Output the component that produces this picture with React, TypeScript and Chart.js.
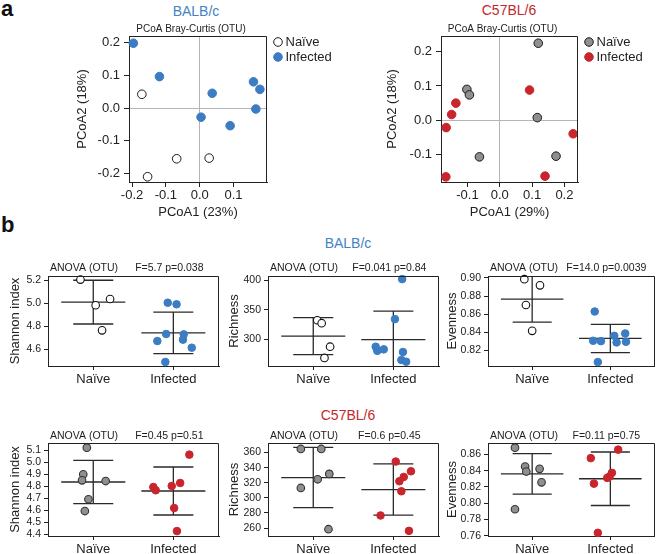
import React, { useEffect, useRef } from 'react';
import { Chart, registerables } from 'chart.js';

Chart.register(...registerables);

const FONT = '"Liberation Sans", Arial, Helvetica, sans-serif';
const INK = '#222222';
const BLUE = '#3b7cc2';
const RED = '#c8252c';
const GRAY = '#8f8f8f';
const ZERO = '#b4b4b4';
const TITLE_BLUE = '#4383c4';
const TITLE_RED = '#c3282e';

// ---------- Panel a: PCoA ----------
const pcoaTicksBalbX = [-0.2, -0.1, 0.0, 0.1];
const pcoaTicksBalbY = [-0.2, -0.1, 0.0, 0.1, 0.2];
const balbNaiveX = [-0.171, -0.154, -0.068, 0.028];
const balbNaiveY = [0.042, -0.21, -0.155, -0.153];
const balbInfX = [-0.196, -0.119, 0.037, 0.004, 0.09, 0.159, 0.178, 0.166];
const balbInfY = [0.198, 0.096, 0.045, -0.028, -0.054, 0.08, 0.057, -0.003];

const pcoaTicksC57X = [-0.1, 0.0, 0.1, 0.2];
const pcoaTicksC57Y = [-0.1, 0.0, 0.1, 0.2];
const c57NaiveX = [0.119, -0.102, -0.094, 0.116, -0.063, 0.174];
const c57NaiveY = [0.224, 0.09, 0.074, 0.008, -0.106, -0.104];
const c57InfX = [0.092, -0.136, -0.149, -0.166, -0.167, 0.14, 0.227];
const c57InfY = [0.088, 0.05, 0.017, -0.021, -0.164, -0.162, -0.039];

// ---------- Panel b: alpha diversity ----------
const groups = ['Naïve', 'Infected'];

// BALB/c
const shB_naiveJ = [-0.16, 0.03, 0.21, 0.11];
const shB_naive = [5.206, 4.983, 5.037, 4.765];
const shB_infJ = [-0.07, 0.04, -0.09, 0.13, -0.2, 0.12, 0.23, -0.1];
const shB_inf = [5.005, 4.991, 4.733, 4.73, 4.672, 4.684, 4.614, 4.49];
const shB_mean = [5.01, 4.743];
const shB_sd = [0.19, 0.18];
const shB_ticks = [4.6, 4.8, 5.0, 5.2];

const riB_naiveJ = [0.05, 0.105, 0.21, 0.14];
const riB_naive = [332, 327, 287, 268];
const riB_infJ = [0.11, 0.02, -0.22, -0.2, -0.12, 0.12, 0.1, 0.16];
const riB_inf = [402, 334, 287, 280, 282.5, 278, 264.5, 261.5];
const riB_mean = [305, 299];
const riB_sd = [31.5, 48.5];
const riB_ticks = [300, 350, 400];

const evB_naiveJ = [-0.1, 0.1, -0.08, 0.0];
const evB_naive = [0.8987, 0.8918, 0.87, 0.8413];
const evB_infJ = [-0.2, -0.22, -0.12, 0.05, 0.08, 0.19, 0.2, -0.16];
const evB_inf = [0.8628, 0.8303, 0.8299, 0.8358, 0.8285, 0.8384, 0.8292, 0.8067];
const evB_mean = [0.8765, 0.8329];
const evB_sd = [0.0255, 0.0157];
const evB_ticks = [0.82, 0.84, 0.86, 0.88, 0.9];

// C57BL/6
const shC_naiveJ = [-0.08, -0.125, -0.14, 0.155, -0.06, -0.105];
const shC_naive = [5.122, 4.9, 4.85, 4.844, 4.692, 4.594];
const shC_infJ = [0.2, 0.085, -0.02, -0.25, -0.22, 0.01, 0.045];
const shC_inf = [5.064, 4.828, 4.803, 4.794, 4.767, 4.619, 4.427];
const shC_mean = [4.836, 4.761];
const shC_sd = [0.18, 0.2];
const shC_ticks = [4.4, 4.5, 4.6, 4.7, 4.8, 4.9, 5.0, 5.1];

const riC_naiveJ = [-0.155, 0.1, 0.2, 0.055, -0.155, 0.19];
const riC_naive = [364.8, 364.8, 331.7, 324.6, 313.1, 258.4];
const riC_infJ = [0.03, 0.22, 0.13, 0.075, 0.1, -0.16, 0.195];
const riC_inf = [348.1, 335.2, 327.7, 322, 308.7, 276.6, 256.2];
const riC_mean = [326.9, 311];
const riC_sd = [40, 34];
const riC_ticks = [260, 280, 300, 320, 340, 360];

const evC_naiveJ = [-0.22, -0.09, -0.075, 0.095, 0.12, -0.22];
const evC_naive = [0.8683, 0.8451, 0.8389, 0.8422, 0.8256, 0.7925];
const evC_infJ = [0.1, -0.25, 0.02, -0.01, -0.04, -0.21, -0.16];
const evC_inf = [0.8658, 0.8554, 0.8373, 0.8327, 0.8311, 0.824, 0.7635];
const evC_mean = [0.836, 0.83];
const evC_sd = [0.0249, 0.0329];
const evC_ticks = [0.76, 0.78, 0.8, 0.82, 0.84, 0.86];

// ---------- helpers ----------
type Pt = { x: number; y: number | null };
const pairs = (xs: number[], ys: number[]): Pt[] => xs.map((x, i) => ({ x, y: ys[i] }));
const jitter = (g: number, offs: number[], ys: number[]): Pt[] => offs.map((o, i) => ({ x: g + o, y: ys[i] }));

function errorBars(means: number[], sds: number[], half = 0.4, cap = 0.25): Pt[] {
  const out: Pt[] = [];
  means.forEach((m, i) => {
    const s = sds[i];
    out.push({ x: i - half, y: m }, { x: i + half, y: m }, { x: i, y: null });
    out.push({ x: i - cap, y: m + s }, { x: i + cap, y: m + s }, { x: i, y: null });
    out.push({ x: i - cap, y: m - s }, { x: i + cap, y: m - s }, { x: i, y: null });
    out.push({ x: i, y: m - s }, { x: i, y: m + s }, { x: i, y: null });
  });
  return out;
}

const decoPlugin = {
  id: 'deco',
  afterDraw(chart: any, _args: any, opts: any) {
    const { ctx, chartArea: a } = chart;
    if (!a) return;
    ctx.save();
    ctx.strokeStyle = INK;
    ctx.lineWidth = 1;
    ctx.beginPath();
    const t = Math.round(a.top) + 0.5;
    const r = Math.round(a.right) - 0.5;
    ctx.moveTo(a.left, t);
    ctx.lineTo(r, t);
    ctx.lineTo(r, a.bottom);
    ctx.stroke();
    (opts.texts || []).forEach((tx: any) => {
      ctx.font = `${tx.size}px ${FONT}`;
      ctx.fillStyle = INK;
      ctx.textAlign = tx.align || 'center';
      ctx.textBaseline = 'middle';
      let x: number;
      if (typeof tx.x === 'number') x = chart.scales.x.getPixelForValue(tx.x);
      else if (tx.anchor === 'left') x = a.left;
      else x = (a.left + a.right) / 2;
      ctx.fillText(tx.text, x + (tx.dx || 0), a.top + tx.dy);
    });
    if (opts.legend) {
      const L = opts.legend;
      L.items.forEach((idx: number, i: number) => {
        const ds = chart.data.datasets[idx];
        const cx = a.right + L.dx;
        const cy = a.top + L.dy + i * L.gap;
        ctx.beginPath();
        ctx.arc(cx, cy, L.r, 0, Math.PI * 2);
        ctx.fillStyle = ds.backgroundColor;
        ctx.fill();
        ctx.lineWidth = ds.borderWidth;
        ctx.strokeStyle = ds.borderColor;
        ctx.stroke();
        ctx.font = `${L.size}px ${FONT}`;
        ctx.fillStyle = INK;
        ctx.textAlign = 'left';
        ctx.textBaseline = 'middle';
        ctx.fillText(ds.label, cx + L.textDx, cy);
      });
    }
    ctx.restore();
  },
};

type Box = { left: number; top: number; width: number; height: number };

function ChartBox({ box, build }: { box: Box; build: () => any }) {
  const ref = useRef<HTMLCanvasElement>(null);
  useEffect(() => {
    const chart = new Chart(ref.current as HTMLCanvasElement, build());
    return () => chart.destroy();
  }, []);
  return (
    <canvas
      ref={ref}
      width={box.width}
      height={box.height}
      style={{ position: 'absolute', left: box.left, top: box.top, width: box.width, height: box.height }}
    />
  );
}

const zeroGrid = (c: any) => (c.tick && Math.abs(c.tick.value) < 1e-9 ? ZERO : 'rgba(0,0,0,0)');

function pcoaConfig(p: any) {
  return {
    type: 'scatter',
    data: {
      datasets: [
        {
          label: 'Naïve',
          data: pairs(p.nx, p.ny),
          backgroundColor: p.naiveFill,
          borderColor: '#1a1a1a',
          borderWidth: 1,
          pointRadius: 4.3,
          clip: false,
        },
        {
          label: 'Infected',
          data: pairs(p.ix, p.iy),
          backgroundColor: p.infColor,
          borderColor: p.infColor,
          borderWidth: 1,
          pointRadius: 4.3,
          clip: false,
        },
      ],
    },
    options: {
      responsive: false,
      animation: false,
      events: [],
      layout: { padding: p.padding },
      plugins: {
        legend: { display: false },
        tooltip: { enabled: false },
        deco: {
          texts: [{ text: 'PCoA Bray-Curtis (OTU)', size: 10, dx: -7, dy: -7 }],
          legend: { items: [0, 1], dx: 11, dy: 6, gap: 15, r: 4.3, size: 13, textDx: 7.5 },
        },
      },
      scales: {
        x: {
          type: 'linear',
          min: p.xmin,
          max: p.xmax,
          afterBuildTicks: (s: any) => {
            s.ticks = p.xt.map((v: number) => ({ value: v }));
          },
          afterFit: (s: any) => {
            s.height = p.xH;
          },
          ticks: {
            autoSkip: false,
            maxRotation: 0,
            color: INK,
            padding: 1,
            font: { family: FONT, size: 13 },
            callback: (v: any) => Number(v).toFixed(1),
          },
          grid: { color: zeroGrid, tickColor: INK, tickLength: 5, lineWidth: 1 },
          border: { display: true, color: INK, width: 1 },
          title: {
            display: true,
            text: p.xTitle,
            color: INK,
            font: { family: FONT, size: 13 },
            padding: { top: 0, bottom: 2 },
          },
        },
        y: {
          type: 'linear',
          min: p.ymin,
          max: p.ymax,
          afterBuildTicks: (s: any) => {
            s.ticks = p.yt.map((v: number) => ({ value: v }));
          },
          afterFit: (s: any) => {
            s.width = p.yW;
          },
          ticks: {
            autoSkip: false,
            color: INK,
            padding: 4,
            font: { family: FONT, size: 13 },
            callback: (v: any) => Number(v).toFixed(1),
          },
          grid: { color: zeroGrid, tickColor: INK, tickLength: 5, lineWidth: 1 },
          border: { display: true, color: INK, width: 1 },
          title: {
            display: true,
            text: 'PCoA2 (18%)',
            color: INK,
            font: { family: FONT, size: 13 },
            padding: { top: 0, bottom: 0 },
          },
        },
      },
    },
    plugins: [decoPlugin],
  };
}

function statConfig(p: any) {
  return {
    type: 'scatter',
    data: {
      datasets: [
        {
          type: 'line',
          label: 'mean ± SD',
          data: errorBars(p.mean, p.sd),
          borderColor: '#2a2a2a',
          borderWidth: 1.3,
          pointRadius: 0,
          pointHitRadius: 0,
          fill: false,
          spanGaps: false,
          tension: 0,
          clip: 0,
          order: 2,
        },
        {
          label: 'Naïve',
          data: jitter(0, p.nj, p.nv),
          backgroundColor: p.naiveFill,
          borderColor: p.naiveBorder,
          borderWidth: 1.1,
          pointRadius: 3.8,
          clip: false,
          order: 1,
        },
        {
          label: 'Infected',
          data: jitter(1, p.ij, p.iv),
          backgroundColor: p.infColor,
          borderColor: p.infColor,
          borderWidth: 1,
          pointRadius: 3.8,
          clip: false,
          order: 1,
        },
      ],
    },
    options: {
      responsive: false,
      animation: false,
      events: [],
      layout: { padding: p.padding },
      plugins: {
        legend: { display: false },
        tooltip: { enabled: false },
        deco: {
          texts: [
            { text: 'ANOVA (OTU)', size: 10.5, anchor: 'left', align: 'left', dx: 2, dy: p.textDy },
            { text: p.stat, size: 10.5, x: 1, dx: -4, dy: p.textDy },
          ],
        },
      },
      scales: {
        x: {
          type: 'linear',
          min: -0.565,
          max: 1.57,
          afterBuildTicks: (s: any) => {
            s.ticks = groups.map((_g, i) => ({ value: i }));
          },
          afterFit: (s: any) => {
            s.height = p.xH;
          },
          ticks: {
            autoSkip: false,
            maxRotation: 0,
            color: INK,
            padding: 2,
            font: { family: FONT, size: 13 },
            callback: (v: any) => groups[Math.round(Number(v))],
          },
          grid: { drawOnChartArea: false, tickColor: INK, tickLength: 4 },
          border: { display: true, color: INK, width: 1 },
        },
        y: {
          type: 'linear',
          min: p.ymin,
          max: p.ymax,
          afterBuildTicks: (s: any) => {
            s.ticks = p.yt.map((v: number) => ({ value: v }));
          },
          afterFit: (s: any) => {
            s.width = p.yW;
          },
          ticks: {
            autoSkip: false,
            color: INK,
            padding: 3,
            font: { family: FONT, size: 10.5 },
            callback: (v: any) => Number(v).toFixed(p.dec),
          },
          grid: { drawOnChartArea: false, tickColor: INK, tickLength: 4 },
          border: { display: true, color: INK, width: 1 },
          title: {
            display: true,
            text: p.yTitle,
            color: INK,
            font: { family: FONT, size: 13 },
            padding: { top: 0, bottom: 0 },
          },
        },
      },
    },
    plugins: [decoPlugin],
  };
}

const row1 = { top: 260, height: 135, padTop: 16, xH: 29, textDy: -8 };
const row2 = { top: 427, height: 127, padTop: 16, xH: 18, textDy: -7 };
const col1 = { left: 8, width: 217, yW: 40, padRight: 6 };
const col2 = { left: 227, width: 218, yW: 41, padRight: 6 };
const col3 = { left: 445, width: 215, yW: 43, padRight: 1 };

function statPanel(row: any, col: any, d: any) {
  const box = { left: col.left, top: row.top, width: col.width, height: row.height };
  const build = () =>
    statConfig({
      ...d,
      yW: col.yW,
      xH: row.xH,
      textDy: row.textDy,
      padding: { left: 0, top: row.padTop, right: col.padRight, bottom: 0 },
    });
  return { box, build };
}

const balbStyle = { naiveFill: '#ffffff', naiveBorder: '#111111', infColor: BLUE };
const c57Style = { naiveFill: GRAY, naiveBorder: '#333333', infColor: RED };

const statPanels = [
  statPanel(row1, col1, { ...balbStyle, nj: shB_naiveJ, nv: shB_naive, ij: shB_infJ, iv: shB_inf, mean: shB_mean, sd: shB_sd, yt: shB_ticks, ymin: 4.455, ymax: 5.237, dec: 1, yTitle: 'Shannon index', stat: 'F=5.7 p=0.038' }),
  statPanel(row1, col2, { ...balbStyle, nj: riB_naiveJ, nv: riB_naive, ij: riB_infJ, iv: riB_inf, mean: riB_mean, sd: riB_sd, yt: riB_ticks, ymin: 254.2, ymax: 407.3, dec: 0, yTitle: 'Richness', stat: 'F=0.041 p=0.84' }),
  statPanel(row1, col3, { ...balbStyle, nj: evB_naiveJ, nv: evB_naive, ij: evB_infJ, iv: evB_inf, mean: evB_mean, sd: evB_sd, yt: evB_ticks, ymin: 0.8023, ymax: 0.9022, dec: 2, yTitle: 'Evenness', stat: 'F=14.0 p=0.0039' }),
  statPanel(row2, col1, { ...c57Style, nj: shC_naiveJ, nv: shC_naive, ij: shC_infJ, iv: shC_inf, mean: shC_mean, sd: shC_sd, yt: shC_ticks, ymin: 4.386, ymax: 5.161, dec: 1, yTitle: 'Shannon index', stat: 'F=0.45 p=0.51' }),
  statPanel(row2, col2, { ...c57Style, nj: riC_naiveJ, nv: riC_naive, ij: riC_infJ, iv: riC_inf, mean: riC_mean, sd: riC_sd, yt: riC_ticks, ymin: 249.4, ymax: 372.7, dec: 0, yTitle: 'Richness', stat: 'F=0.6 p=0.45' }),
  statPanel(row2, col3, { ...c57Style, nj: evC_naiveJ, nv: evC_naive, ij: evC_infJ, iv: evC_inf, mean: evC_mean, sd: evC_sd, yt: evC_ticks, ymin: 0.7596, ymax: 0.874, dec: 2, yTitle: 'Evenness', stat: 'F=0.11 p=0.75' }),
];

const pcoaBalb = {
  box: { left: 75, top: 0, width: 270, height: 222 },
  build: () =>
    pcoaConfig({
      nx: balbNaiveX, ny: balbNaiveY, ix: balbInfX, iy: balbInfY,
      naiveFill: '#ffffff', infColor: BLUE,
      xmin: -0.209, xmax: 0.199, ymin: -0.226, ymax: 0.22,
      xt: pcoaTicksBalbX, yt: pcoaTicksBalbY,
      xTitle: 'PCoA1 (23%)', yW: 54, xH: 40,
      padding: { left: 0, top: 36, right: 78, bottom: 0 },
    }),
};

const pcoaC57 = {
  box: { left: 385, top: 0, width: 275, height: 222 },
  build: () =>
    pcoaConfig({
      nx: c57NaiveX, ny: c57NaiveY, ix: c57InfX, iy: c57InfY,
      naiveFill: GRAY, infColor: RED,
      xmin: -0.182, xmax: 0.242, ymin: -0.179, ymax: 0.245,
      xt: pcoaTicksC57X, yt: pcoaTicksC57Y,
      xTitle: 'PCoA1 (29%)', yW: 56, xH: 40,
      padding: { left: 0, top: 36, right: 82, bottom: 0 },
    }),
};

function Label({ text, cx, cy, size, color, bold, left }: any) {
  const style: any = {
    position: 'absolute',
    top: cy - size * 0.6,
    height: size * 1.2,
    lineHeight: `${size * 1.2}px`,
    fontFamily: FONT,
    fontSize: size,
    fontWeight: bold ? 'bold' : 'normal',
    color,
    whiteSpace: 'nowrap',
  };
  if (typeof left === 'number') {
    style.left = left;
  } else {
    style.left = cx - 100;
    style.width = 200;
    style.textAlign = 'center';
  }
  return <div style={style}>{text}</div>;
}

export default function App() {
  return (
    <div style={{ position: 'fixed', left: 0, top: 0, width: 660, height: 554, background: '#ffffff', overflow: 'hidden' }}>
      <Label text="a" left={1} cy={9} size={22} color="#111" bold />
      <Label text="b" left={1} cy={225} size={22} color="#111" bold />
      <Label text="BALB/c" cx={196} cy={11} size={14} color={TITLE_BLUE} />
      <Label text="C57BL/6" cx={509} cy={10} size={14} color={TITLE_RED} />
      <Label text="BALB/c" cx={348} cy={243} size={14} color={TITLE_BLUE} />
      <Label text="C57BL/6" cx={348} cy={415} size={14} color={TITLE_RED} />
      <ChartBox box={pcoaBalb.box} build={pcoaBalb.build} />
      <ChartBox box={pcoaC57.box} build={pcoaC57.build} />
      {statPanels.map((sp, i) => (
        <ChartBox key={i} box={sp.box} build={sp.build} />
      ))}
    </div>
  );
}
